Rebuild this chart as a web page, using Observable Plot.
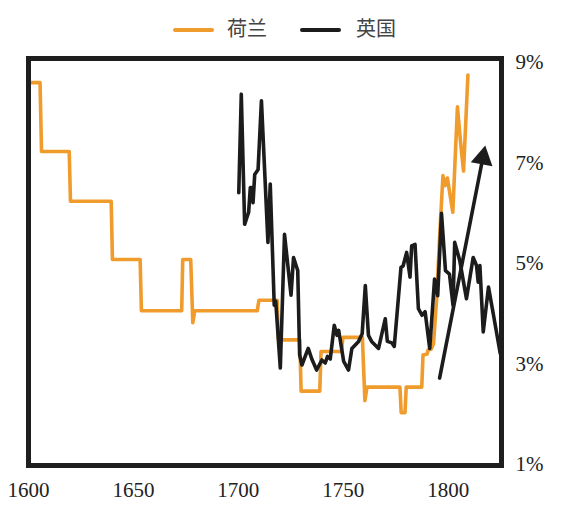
<!DOCTYPE html>
<html>
<head>
<meta charset="utf-8">
<script src="https://cdn.jsdelivr.net/npm/d3@7"></script>
<script src="https://cdn.jsdelivr.net/npm/@observablehq/plot@0.6"></script>
<style>
  html, body { margin: 0; padding: 0; background: #fff; }
  #wrap { width: 580px; height: 523px; position: relative; }
  #legend { height: 46px; position: relative; font-family: "Noto Sans CJK SC", sans-serif; font-size: 20px; color: #444; }
  #legend .sw { position: absolute; top: 28px; width: 41px; height: 4px; border-radius: 2px; }
  #legend .lb { position: absolute; top: 15px; line-height: 26px; }
  #chart svg text { font-family: "Liberation Serif", "DejaVu Serif", serif !important; fill: #222; }
</style>
</head>
<body>
<div id="wrap">
  <div id="legend"></div>
  <div id="chart"></div>
</div>
<script>
// Series names
const seriesNames = ["荷兰", "英国"];
const seriesColors = ["#F09C2C", "#1c1c1c"];

// Dutch (荷兰) interest rate, %
const dutchYears = [1601, 1605.5, 1606.2, 1619.4, 1620, 1639.4, 1640, 1653.2, 1653.8, 1673, 1673.5, 1677.3, 1678.3, 1679.2,
  1709, 1709.8, 1718.5, 1719.1, 1729.3, 1729.9, 1738.8, 1739.4, 1749.2, 1749.8, 1759.1, 1760.3, 1761.3, 1777, 1777.6,
  1779.4, 1780, 1787.4, 1788, 1790, 1790.4, 1792, 1793, 1794.5, 1796, 1797.5, 1798.5, 1799.6, 1802.2, 1804.4, 1805.8,
  1807.3, 1809.4];
const dutchRates = [8.6, 8.6, 7.23, 7.23, 6.24, 6.24, 5.08, 5.08, 4.06, 4.06, 5.08, 5.08, 3.82, 4.06,
  4.06, 4.27, 4.27, 3.48, 3.48, 2.46, 2.46, 3.25, 3.25, 3.53, 3.53, 2.27, 2.54, 2.54, 2.03,
  2.03, 2.54, 2.54, 3.18, 3.2, 3.28, 3.3, 3.4, 4.3, 5.6, 6.75, 6.55, 6.7, 6.02, 8.12, 7.45,
  6.84, 8.75];

// British (英国) interest rate, %
const britYears = [1700.2, 1701.4, 1703, 1704.9, 1705.7, 1706.3, 1707, 1707.8, 1709.4, 1711, 1714.1, 1715.2, 1717.1,
  1717.8, 1720, 1722, 1725.1, 1726.3, 1728.3, 1729.2, 1730.3, 1733.3, 1735, 1737.3, 1739.8, 1741.4, 1742.5, 1743.8,
  1745.7, 1747, 1747.8, 1750.2, 1752.5, 1754.1, 1755.7, 1757.3, 1759, 1760.5, 1762, 1763.5, 1766.8, 1770, 1771,
  1773.2, 1774.3, 1777.5, 1778.5, 1780.2, 1781.8, 1782.6, 1784.2, 1785.8, 1787.5, 1789, 1791.2, 1793.5, 1795,
  1796.8, 1798.7, 1800.6, 1802.3, 1803.1, 1805.5, 1808.7, 1811.9, 1813.5, 1814.3, 1815.1, 1816.7, 1819.2, 1821.6,
  1824.8];
const britRates = [6.41, 8.37, 5.78, 6.02, 6.51, 6.51, 6.21, 6.77, 6.87, 8.24, 5.42, 6.58, 4.17,
  4.25, 2.92, 5.58, 4.37, 5.12, 4.86, 3.18, 2.98, 3.31, 3.1, 2.88, 3.08, 3.02, 3.15, 3.1,
  3.77, 3.57, 3.67, 3.05, 2.88, 3.31, 3.38, 3.45, 3.6, 4.56, 3.57, 3.45, 3.31, 3.9, 3.45,
  3.42, 3.35, 4.92, 4.95, 5.22, 4.73, 5.35, 5.38, 4.1, 3.97, 4.04, 3.31, 4.69, 4.36,
  6.0, 4.86, 4.79, 4.17, 5.42, 5.06, 4.3, 5.12, 4.96, 4.63, 4.96, 3.64, 4.53, 3.97,
  3.21];

// Trend arrow (start, head)
const arrowYears = [1795.9, 1816.5];
const arrowRates = [2.72, 7.1];

// Tick labels
const xTicks = [1600, 1650, 1700, 1750, 1800];
const yTicks = [1, 3, 5, 7, 9];

const dutch = dutchYears.map((y, i) => ({year: y, rate: dutchRates[i]}));
const brit = britYears.map((y, i) => ({year: y, rate: britRates[i]}));
const arrow = arrowYears.map((y, i) => ({year: y, rate: arrowRates[i]}));

// Legend
const legend = document.getElementById("legend");
const legendPos = [{sw: 173, lb: 227}, {sw: 300, lb: 356}];
seriesNames.forEach((name, i) => {
  const sw = document.createElement("div");
  sw.className = "sw";
  sw.style.left = legendPos[i].sw + "px";
  sw.style.background = seriesColors[i];
  legend.appendChild(sw);
  const lb = document.createElement("div");
  lb.className = "lb";
  lb.style.left = legendPos[i].lb + "px";
  lb.textContent = name;
  legend.appendChild(lb);
});

const chart = Plot.plot({
  width: 580,
  height: 477,
  marginTop: 12,
  marginBottom: 58,
  marginLeft: 28,
  marginRight: 79,
  style: {fontFamily: "'Liberation Serif', serif", fontSize: "21px", color: "#222", background: "#fff"},
  x: {domain: [1600, 1825.4]},
  y: {domain: [0.98, 9.08]},
  marks: [
    Plot.axisX({ticks: xTicks, tickSize: 0, tickPadding: 17, tickFormat: d => String(d), label: null, fontSize: 21, fontFamily: "Liberation Serif"}),
    Plot.axisY({anchor: "right", ticks: yTicks, tickSize: 0, tickPadding: 14, tickFormat: d => d + "%", label: null, fontSize: 21, fontFamily: "Liberation Serif", textAnchor: "start"}),
    Plot.line(dutch, {x: "year", y: "rate", stroke: seriesColors[0], strokeWidth: 3.6, strokeLinejoin: "round"}),
    Plot.line(brit, {x: "year", y: "rate", stroke: seriesColors[1], strokeWidth: 3.6, strokeLinejoin: "round"}),
    Plot.line(arrow, {x: "year", y: "rate", stroke: seriesColors[1], strokeWidth: 3.6}),
    Plot.dot(arrow.slice(1), {x: "year", y: "rate", symbol: "triangle", r: 8.2, rotate: 11, fill: seriesColors[1], stroke: "none"}),
    Plot.frame({stroke: "#1e1e1e", strokeWidth: 5})
  ]
});
document.getElementById("chart").appendChild(chart);
</script>
</body>
</html>
